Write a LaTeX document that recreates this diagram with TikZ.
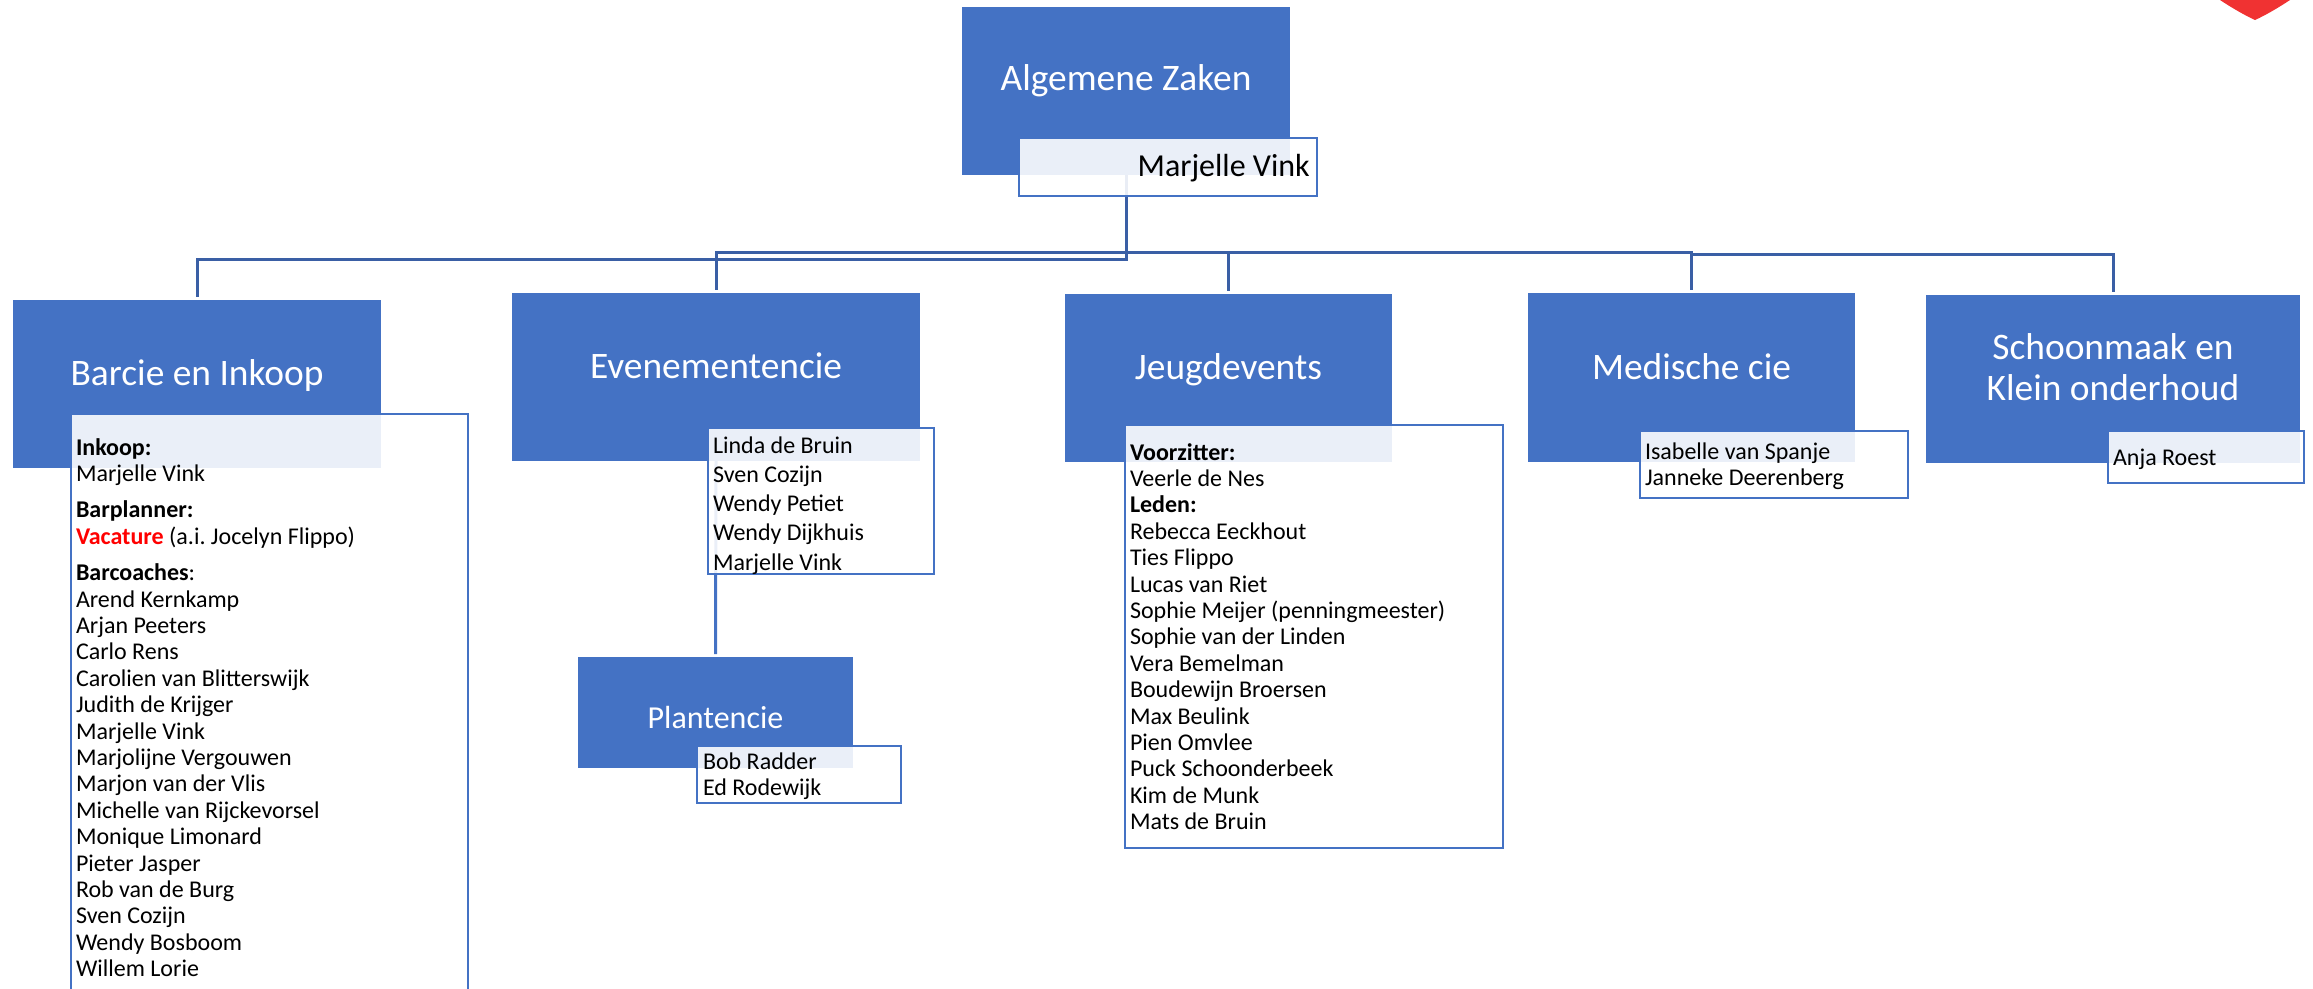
\documentclass[tikz,border=0pt]{standalone}
\usepackage{fontspec}
\setmainfont{Carlito}
\definecolor{boxblue}{HTML}{4472C4}
\definecolor{linkblue}{HTML}{3A5FA5}
\definecolor{heartred}{HTML}{F03232}
\newcommand{\fl}{\rule{0pt}{20pt}}
\tikzset{
  bluebox/.style={fill=boxblue,text=white,inner sep=0pt,outer sep=0pt,align=center,font=\fontsize{37.4}{41}\selectfont},
  smallblue/.style={bluebox,font=\fontsize{32}{38}\selectfont},
  listbox/.style={draw=boxblue,line width=2.8pt,fill=white,fill opacity=.89,inner sep=0pt,outer sep=0pt},
  names/.style={anchor=north west,inner sep=0pt,outer sep=0pt,align=left,text=black,font=\fontsize{24}{26.4}\selectfont\frenchspacing},
  looser/.style={names,font=\fontsize{24}{29.3}\selectfont\frenchspacing},
  conn/.style={draw=linkblue,line width=3pt,shorten >=3pt},
  lightconn/.style={draw=boxblue,line width=3pt,shorten >=3pt}
}
\begin{document}
\begin{tikzpicture}[x=1pt,y=-1pt]
\useasboundingbox (0,0) rectangle (2313,988);
% heart
\fill[heartred] (2220,0) .. controls (2232,8) and (2246,16) .. (2255,20) .. controls (2264,16) and (2278,8) .. (2290,0) -- cycle;
\coordinate (busleft) at (1126,259);
\coordinate (busmid) at (1126,252);
\coordinate (busfar) at (1692,254);
\node[bluebox,text depth=26pt,minimum width=328pt,minimum height=168pt] (az) at (1126,91) {Algemene Zaken};
\node[bluebox,text depth=22pt,minimum width=368pt,minimum height=168pt] (bar) at (197,384) {Barcie en Inkoop};
\node[bluebox,text depth=22pt,minimum width=408pt,minimum height=168pt] (eve) at (716,377) {Evenementencie};
\node[smallblue,text height=33pt,minimum width=275pt,minimum height=111pt] (pla) at (715.5,712.5) {Plantencie};
\node[bluebox,text depth=22pt,minimum width=327pt,minimum height=168pt] (jeu) at (1228.5,378) {Jeugdevents};
\node[bluebox,text depth=22pt,minimum width=327pt,minimum height=169pt] (med) at (1691.5,377.5) {Medische cie};
\node[bluebox,text depth=24pt,minimum width=374pt,minimum height=168pt] (sch) at (2113,379) {Schoonmaak en\\Klein onderhoud};
% connectors
\draw[conn] (az.south) -- (busleft) -| (bar.north);
\draw[conn] (az.south) |- (busmid) -| (eve.north);
\draw[conn] (busmid) -| (jeu.north);
\draw[conn] (busmid) -| (med.north);
\draw[conn] (busfar) -| (sch.north);
\draw[lightconn] (eve.south) -- (pla.north);
% list boxes
\node[listbox,minimum width=298pt,minimum height=58pt] (azl) at (1168,167) {};
\node[listbox,minimum width=397pt,minimum height=577pt] (barl) at (269.5,702.5) {};
\node[listbox,minimum width=226pt,minimum height=146pt] (evel) at (821,501) {};
\node[listbox,minimum width=204pt,minimum height=57pt] (plal) at (799,774.5) {};
\node[listbox,minimum width=378pt,minimum height=423pt] (jeul) at (1314,636.5) {};
\node[listbox,minimum width=268pt,minimum height=67pt] (medl) at (1774,464.5) {};
\node[listbox,minimum width=196pt,minimum height=52pt] (schl) at (2206,457) {};
% list texts
\node[anchor=base east,inner sep=0pt,font=\fontsize{32}{38}\selectfont] (azt) at (1310,176) {Marjelle Vink};
\node[names] (bart) at (76,435) {\fl\textbf{Inkoop:}\\Marjelle Vink\\[10pt]\textbf{Barplanner:}\\\textcolor{red}{\textbf{Vacature}} (a.i. Jocelyn Flippo)\\[10pt]\textbf{Barcoaches}:\\Arend Kernkamp\\Arjan Peeters\\Carlo Rens\\Carolien van Blitterswijk\\Judith de Krijger\\Marjelle Vink\\Marjolijne Vergouwen\\Marjon van der Vlis\\Michelle van Rijckevorsel\\Monique Limonard\\Pieter Jasper\\Rob van de Burg\\Sven Cozijn\\Wendy Bosboom\\Willem Lorie};
\node[looser] (evet) at (713,433) {\fl Linda de Bruin\\Sven Cozijn\\Wendy Petiet\\Wendy Dijkhuis\\Marjelle Vink};
\node[names] (plat) at (703,749.5) {\fl Bob Radder\\Ed Rodewijk};
\node[names] (jeut) at (1130,440) {\fl\textbf{Voorzitter:}\\Veerle de Nes\\\textbf{Leden:}\\Rebecca Eeckhout\\Ties Flippo\\Lucas van Riet\\Sophie Meijer (penningmeester)\\Sophie van der Linden\\Vera Bemelman\\Boudewijn Broersen\\Max Beulink\\Pien Omvlee\\Puck Schoonderbeek\\Kim de Munk\\Mats de Bruin};
\node[names] (medt) at (1645,439) {\fl Isabelle van Spanje\\Janneke Deerenberg};
\node[names] (scht) at (2113,445) {\fl Anja Roest};
\end{tikzpicture}
\end{document}
